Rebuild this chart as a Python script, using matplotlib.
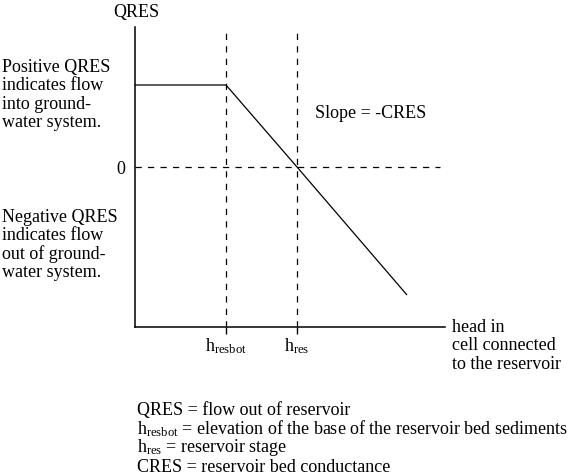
import matplotlib.pyplot as plt

plt.rcParams['font.family'] = ['Liberation Serif', 'DejaVu Serif']
plt.rcParams['mathtext.fontset'] = 'custom'
plt.rcParams['mathtext.rm'] = 'Liberation Serif'
plt.rcParams['mathtext.it'] = 'Liberation Serif'

# QRES vs head (arbitrary units)
head = [0, 91, 162, 272]
qres = [82, 82, 0, -128]
h_resbot = 91
h_res = 162
tick_labels = [r'h$_{\mathrm{resbot}}$', r'h$_{\mathrm{res}}$']

W, H = 585, 476
fig = plt.figure(figsize=(W / 100, H / 100), dpi=100)
ax = fig.add_axes([135 / W, 1 - 327 / H, 310 / W, 300 / H])
ax.set_xlim(0, 310)
ax.set_ylim(-160, 140)

lw = 0.9
ax.plot(head, qres, color='black', lw=lw, solid_capstyle='butt')
ax.plot([0, 305], [0, 0], color='black', lw=lw, dashes=(5, 5))
for xv in (h_resbot, h_res):
    ax.axvline(xv, color='black', lw=lw, dashes=(5, 5))

for s in ('top', 'right'):
    ax.spines[s].set_visible(False)
for s in ('left', 'bottom'):
    ax.spines[s].set_linewidth(1.1)

fs = 13
ax.set_xticks([h_resbot, h_res])
ax.set_xticklabels(tick_labels, fontsize=fs)
ax.tick_params(axis='x', direction='out', length=5, width=1, pad=2)
ax.set_yticks([0])
ax.set_yticklabels(['0'], fontsize=fs)
ax.tick_params(axis='y', length=0, pad=7)


def ftext(x, y, s, **kw):
    fig.text(x / W, 1 - y / H, s, fontsize=fs, **kw)


ftext(136, 12, 'QRES', ha='center', va='center')
ftext(2, 95, 'Positive QRES\nindicates flow\ninto ground-\nwater system.',
      ha='left', va='center', linespacing=1.08)
ftext(2, 245, 'Negative QRES\nindicates flow\nout of ground-\nwater system.',
      ha='left', va='center', linespacing=1.08)
ftext(315, 113, 'Slope = -CRES', ha='left', va='center')
ftext(452, 346, 'head in\ncell connected\nto the reservoir',
      ha='left', va='center', linespacing=1.08)

legend_lines = [
    'QRES = flow out of reservoir',
    r'h$_{\mathrm{resbot}}$ = elevation of the base of the reservoir bed sediments',
    r'h$_{\mathrm{res}}$ = reservoir stage',
    'CRES = reservoir bed conductance',
]
for i, line in enumerate(legend_lines):
    ftext(137, 410 + 19 * i, line, ha='left', va='center')

fig.savefig('out.png', dpi=100)
